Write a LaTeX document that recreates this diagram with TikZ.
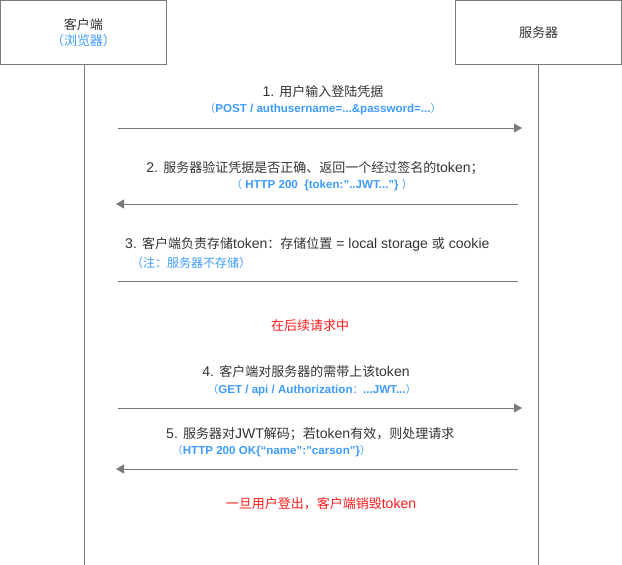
\documentclass[tikz,border=0pt]{standalone}
\usepackage{fontspec}
\setmainfont[Scale=1.08]{Liberation Sans}
\newfontfamily\cjfont{Noto Sans CJK SC}
\newcommand\zh[1]{{\cjfont\mdseries #1}}
\usetikzlibrary{arrows.meta}
\definecolor{txt}{HTML}{333333}
\definecolor{bl}{HTML}{3D9BFF}
\definecolor{rd}{HTML}{FF1A1A}
\definecolor{ln}{HTML}{7A7A7A}
\tikzset{
  box/.style={draw=ln, line width=1pt, minimum width=165.5pt, minimum height=64pt, inner sep=0pt, align=center, text=txt, font=\fontsize{13}{17}\selectfont},
  lifeline/.style={draw=ln, line width=0.8pt},
  msg/.style={draw=ln, line width=1pt, -{Triangle[length=8pt,width=9pt]}},
  plain/.style={draw=ln, line width=1pt},
  maintxt/.style={text=txt, inner sep=0pt, font=\fontsize{13}{15}\selectfont},
  bluetxt/.style={text=bl, inner sep=0pt, font=\fontsize{10.7}{14}\selectfont\bfseries},
  bluelt/.style={text=bl, inner sep=0pt, font=\fontsize{12}{14}\selectfont},
  redtxt/.style={text=rd, inner sep=0pt, font=\fontsize{13}{15}\selectfont}
}
\begin{document}
\begin{tikzpicture}[x=1pt,y=-1pt]
\useasboundingbox (0,0) rectangle (622,565);
\node[box] (client) at (83.5,32.5) {\zh{客户端}\\[-1pt]{\color{bl}\zh{（浏览器）}}};
\node[box] (server) at (538.5,32.5) {\zh{服务器}};
\coordinate (cb) at (84.5,565);
\coordinate (sb) at (538,565);
\draw[lifeline] (client.south -| cb) -- (cb);
\draw[lifeline] (server.south -| sb) -- (sb);
% message 1
\node[maintxt] (t1) at (323,92) {1. \zh{用户输入登陆凭据}};
\node[bluetxt] (b1) at (323,109) {\zh{（}POST / authusername=...\&password=...\zh{）}};
\coordinate (a1s) at (118,128);
\coordinate (a1e) at (522,128);
\draw[msg] (a1s) -- (a1e);
% message 2
\node[maintxt] (t2) at (315,168) {2. \zh{服务器验证凭据是否正确、返回一个经过签名的}token\zh{；}};
\node[bluetxt] (b2) at (322,185) {\zh{（} HTTP 200 \ \{token:"..JWT..."\} \zh{）}};
\coordinate (a2s) at (518,204);
\coordinate (a2e) at (116,204);
\draw[msg] (a2s) -- (a2e);
% step 3
\node[maintxt, anchor=west] (t3) at (125,244) {3. \zh{客户端负责存储}token\zh{：存储位置} = local storage \zh{或} cookie};
\node[bluelt, anchor=west] (b3) at (131,263) {\zh{（注：服务器不存储）}};
\coordinate (a3s) at (118,281);
\coordinate (a3e) at (518,281);
\draw[plain] (a3s) -- (a3e);
% note
\node[redtxt] (r1) at (310,326) {\zh{在后续请求中}};
% message 4
\node[maintxt] (t4) at (306,372) {4. \zh{客户端对服务器的需带上该}token};
\node[bluetxt] (b4) at (312,390) {\zh{（}GET / api / Authorization\zh{：}...JWT...\zh{）}};
\coordinate (a4s) at (118,408);
\coordinate (a4e) at (522,408);
\draw[msg] (a4s) -- (a4e);
% message 5
\node[maintxt, anchor=west] (t5) at (166,434) {5. \zh{服务器对}JWT\zh{解码；若}token\zh{有效，则处理请求}};
\node[bluetxt, anchor=west] (b5) at (172,451) {\zh{（}HTTP 200 OK\{“name”:"carson"\}\zh{）}};
\coordinate (a5s) at (518,469);
\coordinate (a5e) at (116,469);
\draw[msg] (a5s) -- (a5e);
\node[redtxt] (r2) at (321,504) {\zh{一旦用户登出，客户端销毁}token};
\end{tikzpicture}
\end{document}
